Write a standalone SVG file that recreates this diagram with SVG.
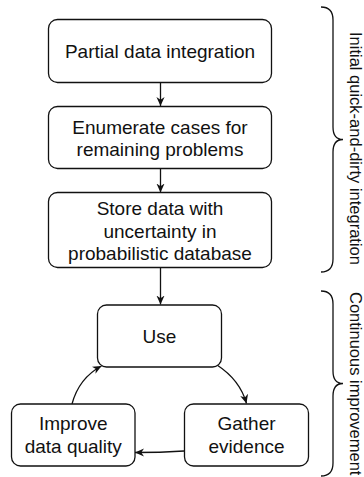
<svg xmlns="http://www.w3.org/2000/svg" width="364" height="477" viewBox="0 0 364 477">
<defs>
<style>
.box{fill:#fff;stroke:#111;stroke-width:1.3}
.t{font-family:"Liberation Sans",Arial,Helvetica,sans-serif;font-size:19px;fill:#111;text-anchor:middle}
.side{font-family:"Liberation Sans",Arial,Helvetica,sans-serif;font-size:16.5px;fill:#111}
.edge{fill:none;stroke:#111;stroke-width:1.3}
.brace{fill:none;stroke:#111;stroke-width:1.3}
</style>
<marker id="arr" viewBox="0 0 10 10" refX="10" refY="5" markerWidth="9" markerHeight="9" markerUnits="userSpaceOnUse" orient="auto">
<path d="M0,0.5 L10,5 L0,9.5 L3,5 z" fill="#111"/>
</marker>
</defs>
<rect width="364" height="477" fill="#fff"/>
<g id="connectors">
<path class="edge" d="M160.5,82.5 L160.5,106" marker-end="url(#arr)"/>
<path class="edge" d="M160.5,168.5 L160.5,192.5" marker-end="url(#arr)"/>
<path class="edge" d="M160.5,267.5 L160.5,304.5" marker-end="url(#arr)"/>
<path class="edge" d="M217,365 Q240,380 246.5,403.5" marker-end="url(#arr)"/>
<path class="edge" d="M184,451 Q160,452.5 135,452.5" marker-end="url(#arr)"/>
<path class="edge" d="M72,404 Q79,378 101.5,366" marker-end="url(#arr)"/>
</g>
<g id="n1">
<rect class="box" x="48.5" y="19.5" width="223" height="63" rx="9"/>
<text class="t" x="160" y="58">Partial data integration</text>
</g>
<g id="n2">
<rect class="box" x="48.5" y="106.5" width="223" height="62" rx="9"/>
<text class="t" x="160" y="133.5">Enumerate cases for</text>
<text class="t" x="160" y="156">remaining problems</text>
</g>
<g id="n3">
<rect class="box" x="48.5" y="192.5" width="223" height="75" rx="9"/>
<text class="t" x="160" y="215">Store data with</text>
<text class="t" x="160" y="237.5">uncertainty in</text>
<text class="t" x="160" y="259.5">probabilistic database</text>
</g>
<g id="n4">
<rect class="box" x="97.5" y="305" width="124" height="62" rx="9"/>
<text class="t" x="159.5" y="342.5">Use</text>
</g>
<g id="n5">
<rect class="box" x="11.5" y="404" width="123.5" height="62" rx="9"/>
<text class="t" x="73.25" y="430">Improve</text>
<text class="t" x="73.25" y="452.5">data quality</text>
</g>
<g id="n6">
<rect class="box" x="184.5" y="404" width="124" height="62" rx="9"/>
<text class="t" x="246.5" y="430">Gather</text>
<text class="t" x="246.5" y="452.5">evidence</text>
</g>
<g id="brace1">
<path class="brace" d="M321,7 Q333,7 333,20 L333,127 Q333,139.5 343,139.5 Q333,139.5 333,152 L333,259 Q333,272 321,272"/>
<text class="side" transform="translate(350,32) rotate(90)">Initial quick-and-dirty integration</text>
</g>
<g id="brace2">
<path class="brace" d="M321,291 Q333,291 333,304 L333,371 Q333,383.5 343,383.5 Q333,383.5 333,396 L333,463 Q333,476 321,476"/>
<text class="side" transform="translate(350,292) rotate(90)">Continuous improvement</text>
</g>
</svg>
